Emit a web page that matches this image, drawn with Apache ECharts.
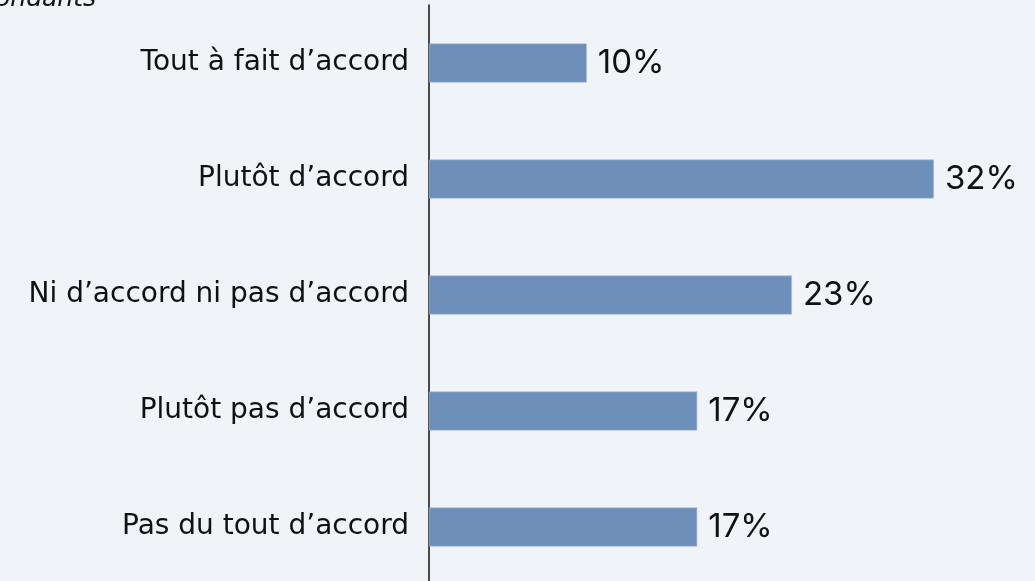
<!DOCTYPE html>
<html>
<head>
<meta charset="utf-8">
<script src="https://cdn.jsdelivr.net/npm/echarts@6/dist/echarts.min.js"></script>
<style>
  html, body { margin: 0; padding: 0; background: #f0f3f7; }
  #chart { width: 1035px; height: 581px; }
</style>
</head>
<body>
<div id="chart"></div>
<script>
// Response categories, top to bottom
const categories = [
  'Tout à fait d’accord',
  'Plutôt d’accord',
  'Ni d’accord ni pas d’accord',
  'Plutôt pas d’accord',
  'Pas du tout d’accord'
];
// Share of respondents (%)
const shares = [10, 32, 23, 17, 17];
const baseNote = 'Base : ensemble des répondants';

const chart = echarts.init(document.getElementById('chart'));
chart.setOption({
  backgroundColor: '#f0f3f7',
  animation: false,
  graphic: [{
    type: 'text',
    x: 96,
    y: 12,
    silent: true,
    style: {
      text: baseNote,
      font: 'italic 25px "DejaVu Sans", sans-serif',
      fill: '#111',
      textAlign: 'right',
      textVerticalAlign: 'bottom'
    }
  }],
  grid: { left: 429, top: 5, width: 568, height: 580, outerBoundsMode: 'none' },
  xAxis: {
    type: 'value', min: 0, max: 36,
    show: false
  },
  yAxis: {
    type: 'category',
    data: categories,
    inverse: true,
    axisLine: { show: true, lineStyle: { color: '#111', width: 1.5 } },
    axisTick: { show: false },
    axisLabel: {
      margin: 20,
      color: '#111',
      fontSize: 28,
      fontFamily: '"DejaVu Sans", sans-serif'
    }
  },
  series: [{
    type: 'bar',
    data: shares,
    barWidth: 39,
    itemStyle: { color: '#6e8fba', borderColor: '#a9bdd8', borderWidth: 0.6 },
    label: {
      show: true,
      position: 'right',
      distance: 11,
      formatter: '{c}%',
      color: '#111',
      fontSize: 33,
      fontFamily: 'Inter, "Noto Sans", sans-serif'
    }
  }]
});
</script>
</body>
</html>
